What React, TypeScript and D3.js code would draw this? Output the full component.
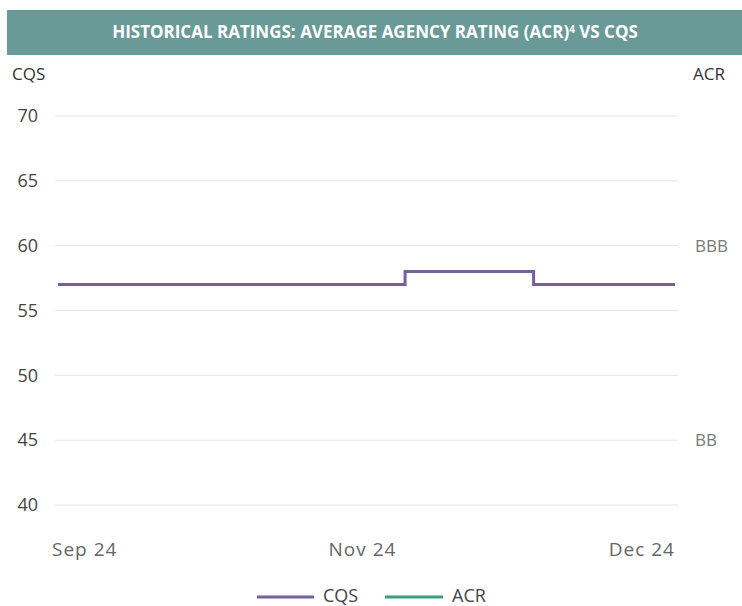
import React from "react";
import * as d3 from "d3";

// observation dates (category axis) and CQS values
const dates = [
  "2024-09-02", "2024-09-05", "2024-09-09", "2024-09-12", "2024-09-16",
  "2024-09-19", "2024-09-23", "2024-09-26", "2024-09-30", "2024-10-07",
  "2024-10-14", "2024-10-21", "2024-11-01", "2024-11-04", "2024-11-08",
  "2024-11-11", "2024-11-15", "2024-11-18", "2024-11-22", "2024-11-25",
  "2024-11-29", "2024-12-02", "2024-12-06", "2024-12-09", "2024-12-13",
];
const cqs = [
  57, 57, 57, 57, 57, 57, 57, 57, 57, 57, 57, 57, 57, 57,
  58, 58, 58, 58, 58,
  57, 57, 57, 57, 57, 57,
];
const xTickIdx = [0, 12, 24];
const yTicks = [40, 45, 50, 55, 60, 65, 70];
const acrLabels = [
  { value: 60, label: "BBB" },
  { value: 45, label: "BB" },
];

const W = 742;
const H = 606;
const FONT = "'Open Sans', sans-serif";

export default function App() {
  const x = d3.scalePoint<string>().domain(dates).range([58, 675]);
  const y = d3.scaleLinear().domain([40, 70]).range([505, 116]);
  const fmt = d3.timeFormat("%b %y");
  const parse = d3.timeParse("%Y-%m-%d");

  const line = d3
    .line<number>()
    .x((_, i) => x(dates[i]) as number)
    .y((d) => y(d))
    .curve(d3.curveStep);

  return (
    <svg
      width={W}
      height={H}
      style={{ position: "absolute", left: 0, top: 0, fontFamily: FONT }}
    >
      <rect x={0} y={0} width={W} height={H} fill="#fff" />
      <rect x={7} y={10} width={W - 7} height={45} fill="#6a9a98" />
      <text
        x={375}
        y={38}
        textAnchor="middle"
        fill="#fff"
        fontFamily="'Liberation Sans Narrow', 'Open Sans', sans-serif"
        fontWeight="bold"
        fontSize={17}
      >
        HISTORICAL RATINGS: AVERAGE AGENCY RATING (ACR)
        <tspan fontSize={10} dy={-5}>4</tspan>
        <tspan dy={5}> VS CQS</tspan>
      </text>

      <text x={12} y={80} fontSize={17} fill="#333">CQS</text>
      <text x={693} y={80} fontSize={17} fill="#333">ACR</text>

      {yTicks.map((t) => (
        <g key={t}>
          <line x1={55} x2={678} y1={y(t)} y2={y(t)} stroke="#e3e6ea" strokeWidth={1} />
          <text x={38} y={y(t)} dy="0.35em" textAnchor="end" fontSize={18} fill="#444">
            {t}
          </text>
        </g>
      ))}

      {acrLabels.map((a) => (
        <text key={a.label} x={695} y={y(a.value)} dy="0.35em" fontSize={17} fill="#7a7a7a">
          {a.label}
        </text>
      ))}

      {xTickIdx.map((i, k) => (
        <text
          key={i}
          x={x(dates[i])}
          y={556}
          fontSize={19}
          letterSpacing={1}
          fill="#666"
          textAnchor={k === 0 ? "start" : k === xTickIdx.length - 1 ? "end" : "middle"}
          dx={k === 0 ? -6 : k === 1 ? -4 : 0}
        >
          {fmt(parse(dates[i]) as Date)}
        </text>
      ))}

      <path d={line(cqs) ?? ""} fill="none" stroke="#765f9a" strokeWidth={3} />

      <g>
        <line x1={257} x2={314} y1={597} y2={597} stroke="#765f9a" strokeWidth={3} />
        <text x={323} y={596} dy="0.35em" fontSize={18} fill="#444">CQS</text>
        <line x1={385} x2={443} y1={597} y2={597} stroke="#3a9e7a" strokeWidth={3} />
        <text x={452} y={596} dy="0.35em" fontSize={18} fill="#444">ACR</text>
      </g>
    </svg>
  );
}
